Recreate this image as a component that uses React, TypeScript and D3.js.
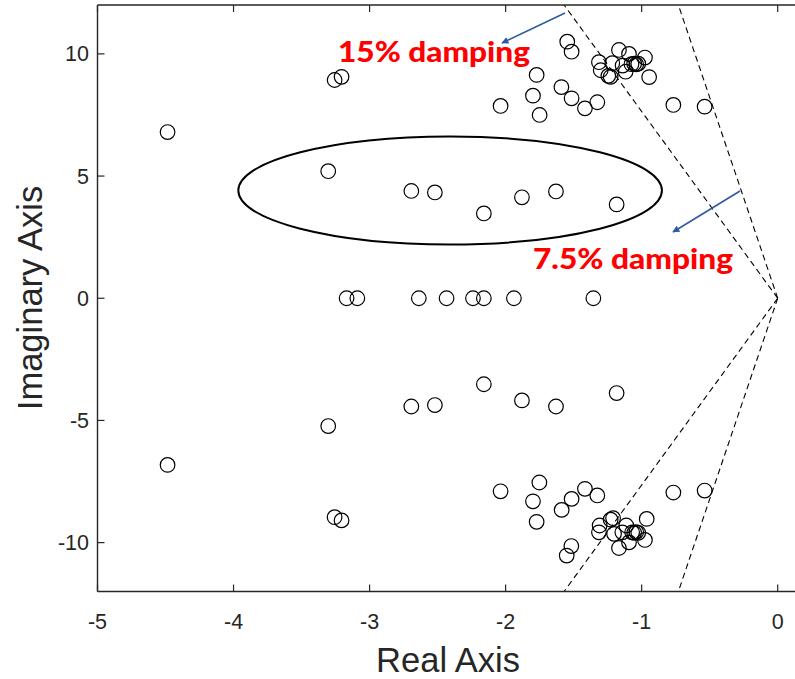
import React, { useEffect, useRef } from "react";
import * as d3 from "d3";

// Pole locations (real, imaginary)
const upperReal = [-4.485, -3.257, -3.206, -3.304, -2.693, -2.52, -2.16, -1.88, -1.63, -1.184, -1.547, -1.515, -1.772, -2.037, -1.799, -1.75, -1.59, -1.515, -1.417, -1.326, -0.767, -0.537, -1.167, -1.093, -0.976, -1.314, -1.301, -1.216, -1.228, -1.245, -1.14, -1.118, -1.075, -1.055, -1.04, -1.025, -0.945];
const upperImag = [6.8, 8.93, 9.06, 5.2, 4.39, 4.33, 3.47, 4.13, 4.37, 3.84, 10.5, 10.09, 9.14, 7.87, 8.29, 7.5, 8.64, 8.18, 7.77, 8.02, 7.91, 7.84, 10.16, 10.0, 9.85, 9.66, 9.33, 9.62, 9.06, 9.1, 9.52, 9.27, 9.58, 9.6, 9.57, 9.6, 9.05];
const lowerReal = [-4.485, -3.257, -3.206, -3.304, -2.693, -2.52, -2.16, -1.88, -1.63, -1.184, -1.551, -1.517, -1.772, -2.037, -1.799, -1.752, -1.588, -1.515, -1.417, -1.326, -0.767, -0.537, -1.167, -1.093, -0.976, -1.314, -1.309, -1.203, -1.228, -1.21, -1.142, -1.113, -1.07, -1.055, -1.04, -1.025, -0.963];
const lowerImag = [-6.82, -8.96, -9.09, -5.23, -4.43, -4.37, -3.52, -4.18, -4.43, -3.88, -10.53, -10.14, -9.15, -7.9, -8.31, -7.54, -8.66, -8.21, -7.8, -8.07, -7.95, -7.87, -10.22, -9.99, -9.89, -9.58, -9.3, -9.64, -9.06, -9.0, -9.58, -9.3, -9.58, -9.6, -9.57, -9.6, -9.03];
const zeroAxisReal = [-3.169, -3.09, -2.638, -2.434, -2.24, -2.16, -1.939, -1.355];

const xTicks = [-5, -4, -3, -2, -1, 0];
const yTicks = [-10, -5, 0, 5, 10];

// damping line end points (real at |imag| = 12)
const dampingLabels = ["15% damping", "7.5% damping"];
const dampingEndReal = [-1.57, -0.73];

export default function App() {
  const ref = useRef<SVGSVGElement>(null);

  useEffect(() => {
    const svg = d3.select(ref.current);
    svg.selectAll("*").remove();

    const x = d3.scaleLinear().domain([-5, 0]).range([97.5, 777.7]);
    const y = d3.scaleLinear().domain([-12, 12]).range([591.5, 5]);
    const xMax = 0.2;
    const axisColor = "#262626";
    const fontAxis = "'Liberation Sans', Arial, sans-serif";

    const defs = svg.append("defs");
    defs
      .append("clipPath")
      .attr("id", "plotclip")
      .append("rect")
      .attr("x", x(-5))
      .attr("y", y(12))
      .attr("width", x(xMax) - x(-5))
      .attr("height", y(-12) - y(12));

    defs
      .append("marker")
      .attr("id", "arrowhead")
      .attr("viewBox", "0 0 10 10")
      .attr("refX", 9)
      .attr("refY", 5)
      .attr("markerWidth", 8)
      .attr("markerHeight", 7)
      .attr("orient", "auto")
      .attr("markerUnits", "userSpaceOnUse")
      .append("path")
      .attr("d", "M0,0 L10,5 L0,10 z")
      .attr("fill", "#2f5aa0");

    const plot = svg.append("g").attr("clip-path", "url(#plotclip)");

    // damping lines
    dampingEndReal.forEach((r) => {
      [12, -12].forEach((im) => {
        plot
          .append("line")
          .attr("x1", x(0))
          .attr("y1", y(0))
          .attr("x2", x(r))
          .attr("y2", y(im))
          .attr("stroke", "#000")
          .attr("stroke-width", 1.1)
          .attr("stroke-dasharray", "6,4");
      });
    });

    // ellipse
    plot
      .append("ellipse")
      .attr("cx", x(-2.408))
      .attr("cy", y(4.41))
      .attr("rx", x(-2.408 + 1.557) - x(-2.408))
      .attr("ry", y(4.41) - y(4.41 + 2.21))
      .attr("fill", "none")
      .attr("stroke", "#000")
      .attr("stroke-width", 2);

    const pts: [number, number][] = [];
    upperReal.forEach((r, i) => pts.push([r, upperImag[i]]));
    lowerReal.forEach((r, i) => pts.push([r, lowerImag[i]]));
    zeroAxisReal.forEach((r) => pts.push([r, 0]));

    plot
      .selectAll("circle.pole")
      .data(pts)
      .enter()
      .append("circle")
      .attr("class", "pole")
      .attr("cx", (d) => x(d[0]))
      .attr("cy", (d) => y(d[1]))
      .attr("r", 7.3)
      .attr("fill", "none")
      .attr("stroke", "#000")
      .attr("stroke-width", 1.2);

    // axes box
    const g = svg.append("g");
    g.append("line").attr("x1", x(-5)).attr("x2", x(xMax)).attr("y1", y(12)).attr("y2", y(12)).attr("stroke", axisColor).attr("stroke-width", 1.4);
    g.append("line").attr("x1", x(-5)).attr("x2", x(xMax)).attr("y1", y(-12)).attr("y2", y(-12)).attr("stroke", axisColor).attr("stroke-width", 1.4);
    g.append("line").attr("x1", x(-5)).attr("x2", x(-5)).attr("y1", y(12)).attr("y2", y(-12)).attr("stroke", axisColor).attr("stroke-width", 1.4);

    xTicks.forEach((t) => {
      g.append("line").attr("x1", x(t)).attr("x2", x(t)).attr("y1", y(-12)).attr("y2", y(-12) - 7).attr("stroke", axisColor).attr("stroke-width", 1.2);
      g.append("line").attr("x1", x(t)).attr("x2", x(t)).attr("y1", y(12)).attr("y2", y(12) + 7).attr("stroke", axisColor).attr("stroke-width", 1.2);
      g.append("text")
        .attr("x", x(t))
        .attr("y", 629)
        .attr("text-anchor", "middle")
        .attr("font-family", fontAxis)
        .attr("font-size", 21.5)
        .attr("fill", axisColor)
        .text(String(t));
    });
    yTicks.forEach((t) => {
      g.append("line").attr("x1", x(-5)).attr("x2", x(-5) + 7).attr("y1", y(t)).attr("y2", y(t)).attr("stroke", axisColor).attr("stroke-width", 1.2);
      g.append("text")
        .attr("x", 89)
        .attr("y", y(t) + 7.5)
        .attr("text-anchor", "end")
        .attr("font-family", fontAxis)
        .attr("font-size", 21.5)
        .attr("fill", axisColor)
        .text(String(t));
    });

    g.append("text")
      .attr("x", 448)
      .attr("y", 672)
      .attr("text-anchor", "middle")
      .attr("font-family", fontAxis)
      .attr("font-size", 34.5)
      .attr("fill", axisColor)
      .text("Real Axis");
    g.append("text")
      .attr("transform", `translate(42,298) rotate(-90)`)
      .attr("text-anchor", "middle")
      .attr("font-family", fontAxis)
      .attr("font-size", 34.5)
      .attr("fill", axisColor)
      .text("Imaginary Axis");

    // annotations
    const arrows = [
      { x1: 565, y1: 13, x2: 502, y2: 43 },
      { x1: 740, y1: 191, x2: 673, y2: 232 },
    ];
    arrows.forEach((a) => {
      svg
        .append("line")
        .attr("x1", a.x1)
        .attr("y1", a.y1)
        .attr("x2", a.x2)
        .attr("y2", a.y2)
        .attr("stroke", "#2f5aa0")
        .attr("stroke-width", 1.6)
        .attr("marker-end", "url(#arrowhead)");
    });
    const labelPos = [
      { x: 338, y: 62, w: 192 },
      { x: 533, y: 269, w: 200 },
    ];
    dampingLabels.forEach((lab, i) => {
      svg
        .append("text")
        .attr("x", labelPos[i].x)
        .attr("y", labelPos[i].y)
        .attr("font-family", "Lato, 'Open Sans', sans-serif")
        .attr("font-weight", 900)
        .attr("font-size", 29)
        .attr("fill", "#ff0000")
        .attr("textLength", labelPos[i].w)
        .attr("lengthAdjust", "spacingAndGlyphs")
        .text(lab);
    });
  }, []);

  return (
    <svg
      ref={ref}
      width={795}
      height={679}
      style={{ position: "absolute", left: 0, top: 0, background: "#fff" }}
    />
  );
}
